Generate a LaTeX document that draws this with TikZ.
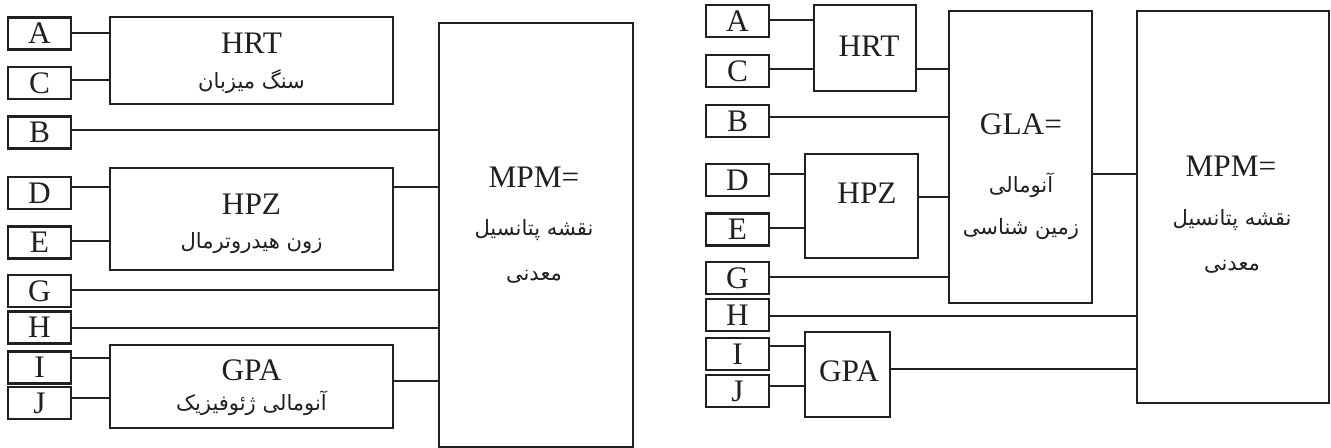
\documentclass[tikz,border=0pt]{standalone}
\usepackage{fontspec}
\setmainfont{Liberation Serif}
\newfontfamily\fa[Script=Arabic]{DejaVu Sans}
\TeXXeTstate=1
\definecolor{ink}{HTML}{231F20}

\begin{document}
\begin{tikzpicture}[x=0.75pt,y=-0.75pt,
  box/.style={draw=ink,line width=1.75pt,inner sep=0pt,outer sep=0pt},
  key/.style={box,minimum width=47.25pt,minimum height=24pt,text=ink,
    font=\fontsize{23.5}{23.5}\selectfont,text height=15.4pt,text depth=0pt},
  link/.style={draw=ink,line width=1.35pt},
  lat/.style={anchor=base,inner sep=0pt,text=ink,font=\fontsize{23.5}{23.5}\selectfont},
  per/.style={inner sep=0pt,text=ink,font=\fa\fontsize{15.8}{15.8}\selectfont}]

\fill[white] (0,0) rectangle (1331,448);
\useasboundingbox (0,0) rectangle (1331,448);

% ---------------- left scheme ----------------
\node[key] (lA) at (39.5,33.5) {A};
\node[key] (lC) at (39.5,83) {C};
\node[key] (lB) at (39.5,132.5) {B};
\node[key] (lD) at (39.5,193) {D};
\node[key] (lE) at (39.5,242.5) {E};
\node[key] (lG) at (39.5,291) {G};
\node[key] (lH) at (39.5,327.5) {H};
\node[key] (lI) at (39.5,367.5) {I};
\node[key] (lJ) at (39.5,403) {J};

\node[box,minimum width=283*0.75pt,minimum height=87*0.75pt] (hrtL) at (251.5,60.5) {};
\node[box,minimum width=283*0.75pt,minimum height=102*0.75pt] (hpzL) at (251.5,219) {};
\node[box,minimum width=283*0.75pt,minimum height=83*0.75pt] (gpaL) at (251.5,386.5) {};
\node[box,minimum width=194*0.75pt,minimum height=424*0.75pt] (mpmL) at (536,235) {};

\node[lat] (hrtLt) at (251.5,53.5) {HRT};
\node[per] (hrtLp) at (251.5,82) {\beginR سنگ میزبان\endR};
\node[lat] (hpzLt) at (251.5,214.5) {HPZ};
\node[per] (hpzLp) at (251.5,243) {\beginR زون هیدروترمال\endR};
\node[lat] (gpaLt) at (251.5,381) {GPA};
\node[per] (gpaLp) at (251.5,403) {\beginR آنومالی ژئوفیزیک\endR};
\node[lat] (mpmLt) at (534,188) {MPM=};
\node[per] (mpmLp1) at (534,230) {\beginR نقشه پتانسیل\endR};
\node[per] (mpmLp2) at (534,277) {\beginR معدنی\endR};

\draw[link] (lA.east |- 0,33) -- (hrtL.west |- 0,33);
\draw[link] (lC.east |- 0,80) -- (hrtL.west |- 0,80);
\draw[link] (lB.east |- 0,130) -- (mpmL.west |- 0,130);
\draw[link] (lD.east |- 0,187) -- (hpzL.west |- 0,187);
\draw[link] (lE.east |- 0,241) -- (hpzL.west |- 0,241);
\draw[link] (hpzL.east |- 0,187) -- (mpmL.west |- 0,187);
\draw[link] (lG.east |- 0,290) -- (mpmL.west |- 0,290);
\draw[link] (lH.east |- 0,328) -- (mpmL.west |- 0,328);
\draw[link] (lI.east |- 0,358) -- (gpaL.west |- 0,358);
\draw[link] (lJ.east |- 0,398) -- (gpaL.west |- 0,398);
\draw[link] (gpaL.east |- 0,381) -- (mpmL.west |- 0,381);

% ---------------- right scheme ----------------
\node[key] (rA) at (737.5,21) {A};
\node[key] (rC) at (737.5,71) {C};
\node[key] (rB) at (737.5,121) {B};
\node[key] (rD) at (737.5,180) {D};
\node[key] (rE) at (737.5,229.5) {E};
\node[key] (rG) at (737.5,278) {G};
\node[key] (rH) at (737.5,315) {H};
\node[key] (rI) at (737.5,354) {I};
\node[key] (rJ) at (737.5,391) {J};

\node[box,minimum width=102*0.75pt,minimum height=86*0.75pt] (hrtR) at (865,48) {};
\node[box,minimum width=113*0.75pt,minimum height=104*0.75pt] (hpzR) at (861.5,206) {};
\node[box,minimum width=85*0.75pt,minimum height=85*0.75pt] (gpaR) at (847.5,374.5) {};
\node[box,minimum width=143*0.75pt,minimum height=292*0.75pt] (gla) at (1020.5,157) {};
\node[box,minimum width=192*0.75pt,minimum height=392*0.75pt] (mpmR) at (1233,207) {};

\node[lat] (hrtRt) at (869,57) {HRT};
\node[lat] (hpzRt) at (867,204) {HPZ};
\node[lat] (gpaRt) at (849,382) {GPA};
\node[lat] (glat) at (1021,135) {GLA=};
\node[per] (glap1) at (1021,185) {\beginR آنومالی\endR};
\node[per] (glap2) at (1021,229) {\beginR زمین شناسی\endR};
\node[lat] (mpmRt) at (1231,177) {MPM=};
\node[per] (mpmRp1) at (1232,220) {\beginR نقشه پتانسیل\endR};
\node[per] (mpmRp2) at (1232,267) {\beginR معدنی\endR};

\draw[link] (rA.east |- 0,20) -- (hrtR.west |- 0,20);
\draw[link] (rC.east |- 0,69) -- (hrtR.west |- 0,69);
\draw[link] (hrtR.east |- 0,69) -- (gla.west |- 0,69);
\draw[link] (rB.east |- 0,117) -- (gla.west |- 0,117);
\draw[link] (rD.east |- 0,174) -- (hpzR.west |- 0,174);
\draw[link] (rE.east |- 0,228) -- (hpzR.west |- 0,228);
\draw[link] (hpzR.east |- 0,197) -- (gla.west |- 0,197);
\draw[link] (rG.east |- 0,277) -- (gla.west |- 0,277);
\draw[link] (gla.east |- 0,174) -- (mpmR.west |- 0,174);
\draw[link] (rH.east |- 0,316) -- (mpmR.west |- 0,316);
\draw[link] (rI.east |- 0,346) -- (gpaR.west |- 0,346);
\draw[link] (rJ.east |- 0,386) -- (gpaR.west |- 0,386);
\draw[link] (gpaR.east |- 0,369) -- (mpmR.west |- 0,369);
\end{tikzpicture}
\end{document}
